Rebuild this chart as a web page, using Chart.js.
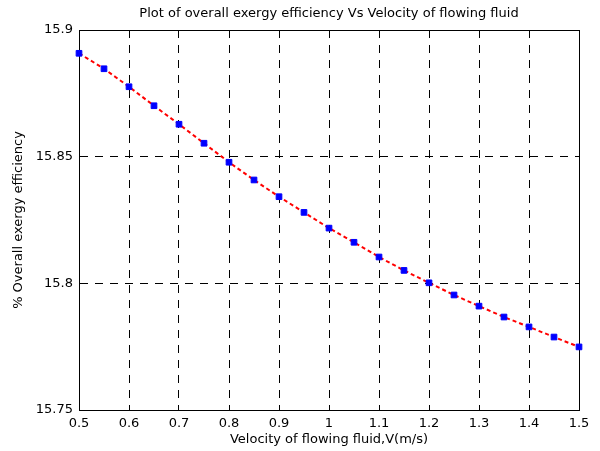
<!DOCTYPE html>
<html>
<head>
<meta charset="utf-8">
<script src="https://cdn.jsdelivr.net/npm/chart.js@4.4.0/dist/chart.umd.min.js"></script>
<style>
  html, body { margin: 0; padding: 0; background: #fff; }
  #wrap { width: 600px; height: 451px; }
</style>
</head>
<body>
<div id="wrap"><canvas id="myChart" width="600" height="451"></canvas></div>
<script>
// velocity (m/s) and overall exergy efficiency (%)
const velocity = [0.5, 0.55, 0.6, 0.65, 0.7, 0.75, 0.8, 0.85, 0.9, 0.95, 1.0,
                  1.05, 1.1, 1.15, 1.2, 1.25, 1.3, 1.35, 1.4, 1.45, 1.5];
const efficiency = [15.8908, 15.8847, 15.8776, 15.8701, 15.8628, 15.8553, 15.8478,
                    15.8408, 15.8342, 15.8280, 15.8218, 15.8162, 15.8104, 15.8051,
                    15.8002, 15.7954, 15.7910, 15.7867, 15.7828, 15.7788, 15.7749];
const xTicks = [0.5, 0.6, 0.7, 0.8, 0.9, 1, 1.1, 1.2, 1.3, 1.4, 1.5];
const yTicks = [15.75, 15.8, 15.85, 15.9];
const chartTitle = 'Plot of overall exergy efficiency Vs Velocity of flowing fluid';

const pts = velocity.map((v, i) => ({ x: v, y: efficiency[i] }));
const fontFam = '"DejaVu Sans", Arial, sans-serif';

// box around plot area like matlab, and the title centred over the plot area
const boxPlugin = {
  id: 'box',
  beforeDatasetsDraw(chart) {
    const a = chart.chartArea;
    const c = chart.ctx;
    c.save();
    c.strokeStyle = '#000';
    c.lineWidth = 1;
    c.setLineDash([]);
    c.strokeRect(Math.round(a.left) + 0.5, Math.round(a.top) + 0.5,
                 Math.round(a.right - a.left), Math.round(a.bottom - a.top));
    c.fillStyle = '#000';
    c.font = '13px ' + fontFam;
    c.textAlign = 'center';
    c.textBaseline = 'middle';
    c.fillText(chartTitle, (a.left + a.right) / 2, 13.5);
    c.restore();
  }
};

const ctx = document.getElementById('myChart');
const myChart = new Chart(ctx, {
  type: 'line',
  data: {
    datasets: [{
      data: pts,
      clip: false,
      borderColor: '#ff0000',
      borderWidth: 2,
      borderDash: [4, 3],
      pointStyle: 'rect',
      pointRadius: 4,
      pointBackgroundColor: '#0000ff',
      pointBorderColor: '#0000ff',
      pointBorderWidth: 1,
      tension: 0
    }, {
      data: pts,
      clip: false,
      showLine: false,
      pointStyle: 'rect',
      pointRadius: 1,
      pointBackgroundColor: '#000',
      pointBorderColor: '#000',
      pointBorderWidth: 0
    }]
  },
  options: {
    responsive: false,
    animation: false,
    layout: { padding: { left: 0, right: 21, top: 30, bottom: 0 } },
    plugins: {
      legend: { display: false },
      tooltip: { enabled: false },
      title: { display: false }
    },
    scales: {
      x: {
        type: 'linear',
        min: 0.5, max: 1.5,
        afterBuildTicks(scale) { scale.ticks = xTicks.map(v => ({ value: v })); },
        afterFit(scale) { scale.height = 41; },
        ticks: {
          color: '#000',
          font: { family: fontFam, size: 13 },
          padding: 5.5,
          maxRotation: 0,
          callback: v => String(v)
        },
        grid: { color: '#000', lineWidth: 1, drawTicks: false },
        border: { display: true, color: '#000', dash: [8, 7] },
        title: {
          display: true,
          text: 'Velocity of flowing fluid,V(m/s)',
          color: '#000',
          font: { family: fontFam, size: 13 },
          padding: { top: 1, bottom: 4 }
        }
      },
      y: {
        min: 15.75, max: 15.9,
        afterBuildTicks(scale) { scale.ticks = yTicks.map(v => ({ value: v })); },
        afterFit(scale) { scale.width = 79; },
        ticks: {
          color: '#000',
          font: { family: fontFam, size: 13 },
          padding: 6,
          callback: v => String(v)
        },
        grid: { color: '#000', lineWidth: 1, drawTicks: false },
        border: { display: true, color: '#000', dash: [8, 7] },
        title: {
          display: true,
          text: '% Overall exergy efficiency',
          color: '#000',
          font: { family: fontFam, size: 13 },
          padding: { top: 11, bottom: 0 }
        }
      }
    }
  },
  plugins: [boxPlugin]
});
</script>
</body>
</html>
